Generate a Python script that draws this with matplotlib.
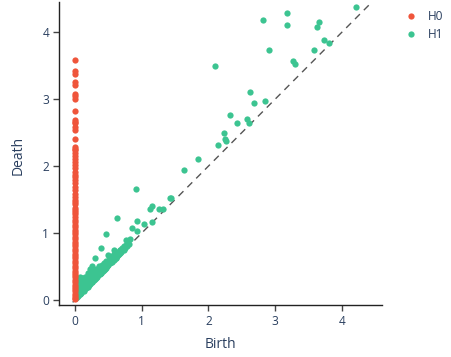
import matplotlib
matplotlib.use("Agg")
import matplotlib.pyplot as plt
from matplotlib.lines import Line2D

# ---- data ----
h0_death = [3.58, 3.42, 3.38, 3.25, 3.21, 3.08, 3.04, 3.00, 2.82, 2.69, 2.66, 2.64,
            2.59, 2.54, 2.41, 2.29, 2.26, 2.24, 2.19, 2.15, 2.11, 2.06, 2.01, 1.97,
            1.91, 1.87, 1.83, 1.79, 1.74, 1.69, 1.64, 1.59, 1.54, 1.50, 1.46, 1.43,
            1.38, 1.35, 1.31, 1.28, 1.24, 1.20, 1.17, 1.12, 1.09, 1.05, 1.01, 0.98,
            0.94, 0.91, 0.87, 0.83, 0.80, 0.76, 0.73, 0.69, 0.65, 0.62, 0.58, 0.55,
            0.51, 0.48, 0.44, 0.41, 0.37, 0.34, 0.30, 0.27, 0.23, 0.20, 0.16, 0.13,
            0.09, 0.06, 0.03, 0.01]
h0_birth = [0.0 for _ in h0_death]

# isolated H1 points
h1_birth = [4.21, 2.82, 3.18, 3.17, 3.65, 3.62, 2.90, 3.73, 3.81, 3.58, 2.10, 3.27,
            3.29, 2.62, 2.68, 2.84, 2.32, 2.42, 2.57, 2.60, 2.23, 2.24, 2.26, 2.15,
            1.84, 1.63, 0.91, 1.42, 1.44, 1.15, 1.13, 1.26, 1.32, 0.63, 0.93, 1.04,
            1.16, 0.86, 0.93, 0.47, 0.82, 0.76, 0.81, 0.39, 0.30, 0.59, 0.67, 0.50,
            0.25, 0.22, 0.07]
h1_death = [4.37, 4.18, 4.28, 4.10, 4.15, 4.07, 3.74, 3.88, 3.84, 3.73, 3.50, 3.57,
            3.53, 3.10, 2.94, 2.97, 2.76, 2.64, 2.70, 2.65, 2.50, 2.40, 2.37, 2.32,
            2.10, 1.94, 1.66, 1.53, 1.52, 1.41, 1.36, 1.36, 1.36, 1.23, 1.18, 1.13,
            1.17, 1.08, 1.03, 0.98, 0.91, 0.90, 0.84, 0.77, 0.63, 0.75, 0.75, 0.67,
            0.51, 0.46, 0.35]

# dense H1 cloud near the diagonal
cloud_birth = [0.01, 0.02, 0.03, 0.03, 0.04, 0.05, 0.05, 0.06, 0.07, 0.07, 0.08, 0.08,
               0.09, 0.10, 0.10, 0.11, 0.12, 0.12, 0.13, 0.14, 0.15, 0.15, 0.16, 0.17,
               0.18, 0.18, 0.19, 0.20, 0.20, 0.21, 0.22, 0.23, 0.24, 0.25, 0.26, 0.26,
               0.27, 0.28, 0.29, 0.30, 0.31, 0.32, 0.33, 0.34, 0.35, 0.36, 0.37, 0.38,
               0.39, 0.40, 0.41, 0.42, 0.43, 0.44, 0.45, 0.46, 0.47, 0.48, 0.49, 0.50,
               0.51, 0.52, 0.53, 0.54, 0.55, 0.56, 0.57, 0.58, 0.59, 0.60, 0.61, 0.62,
               0.63, 0.64, 0.65, 0.66, 0.68, 0.69, 0.70, 0.71, 0.72, 0.74, 0.75, 0.77,
               0.78,
               0.02, 0.03, 0.04, 0.05, 0.06, 0.06, 0.08, 0.09, 0.10, 0.11, 0.12, 0.13,
               0.14, 0.15, 0.16, 0.17, 0.18, 0.19, 0.21, 0.22, 0.23, 0.24, 0.25, 0.27,
               0.28, 0.29, 0.31, 0.32, 0.33, 0.34, 0.36, 0.37, 0.38, 0.40, 0.41, 0.43,
               0.44, 0.45, 0.47, 0.48, 0.50, 0.52, 0.53, 0.55, 0.57, 0.58, 0.60, 0.62,
               0.04, 0.07, 0.09, 0.11, 0.13, 0.16, 0.19, 0.22, 0.25, 0.28, 0.31, 0.35,
               0.39, 0.43, 0.46, 0.50, 0.54, 0.57, 0.61, 0.65, 0.67, 0.73]
cloud_death = [0.03, 0.08, 0.05, 0.15, 0.10, 0.22, 0.07, 0.30, 0.18, 0.12, 0.27, 0.09,
               0.20, 0.33, 0.14, 0.24, 0.17, 0.30, 0.13, 0.22, 0.34, 0.18, 0.27, 0.20,
               0.31, 0.24, 0.19, 0.40, 0.28, 0.23, 0.35, 0.26, 0.31, 0.27, 0.43, 0.36,
               0.30, 0.33, 0.40, 0.32, 0.37, 0.47, 0.35, 0.42, 0.38, 0.50, 0.40, 0.44,
               0.41, 0.52, 0.46, 0.44, 0.55, 0.48, 0.47, 0.52, 0.58, 0.50, 0.55, 0.53,
               0.60, 0.56, 0.63, 0.58, 0.57, 0.66, 0.61, 0.60, 0.68, 0.64, 0.63, 0.70,
               0.66, 0.72, 0.68, 0.69, 0.74, 0.71, 0.78, 0.74, 0.76, 0.80, 0.77, 0.82,
               0.80,
               0.04, 0.12, 0.26, 0.17, 0.09, 0.26, 0.13, 0.29, 0.24, 0.16, 0.21, 0.27,
               0.18, 0.28, 0.22, 0.34, 0.25, 0.29, 0.31, 0.27, 0.40, 0.29, 0.36, 0.33,
               0.31, 0.36, 0.42, 0.35, 0.40, 0.37, 0.44, 0.39, 0.42, 0.46, 0.43, 0.50,
               0.47, 0.49, 0.52, 0.51, 0.56, 0.55, 0.58, 0.59, 0.62, 0.61, 0.66, 0.65,
               0.06, 0.09, 0.11, 0.13, 0.15, 0.18, 0.21, 0.24, 0.27, 0.30, 0.33, 0.37,
               0.41, 0.45, 0.48, 0.52, 0.56, 0.59, 0.63, 0.67, 0.70, 0.75]

series_labels = ["H0", "H1"]
ticks = [0, 1, 2, 3, 4]
diag_range = [-0.3, 4.7]

# ---- style ----
plt.rcParams['font.family'] = ['Open Sans', 'DejaVu Sans']
txt_color = '#2a3f5f'
c_h0 = '#EF553B'
c_h1 = '#3CC491'

W, H = 451, 357
fig = plt.figure(figsize=(W / 100, H / 100), dpi=100)
ax = fig.add_axes([59 / W, 1 - 305 / H, 323 / W, 303 / H])

ax.plot(diag_range, diag_range, ls=(0, (5, 4)), color='#555555', lw=1, zorder=1)
ax.plot(h0_birth, h0_death, 'o', color=c_h0, ms=4.5, mew=0, zorder=3, label=series_labels[0])
ax.plot(h1_birth + cloud_birth, h1_death + cloud_death, 'o', color=c_h1, ms=4.5, mew=0,
        zorder=2, label=series_labels[1])

ax.set_xlim(-0.24, 4.6)
ax.set_ylim(-0.075, 4.45)
ax.set_xticks(ticks)
ax.set_yticks(ticks)
for s in ['top', 'right']:
    ax.spines[s].set_visible(False)
for s in ['left', 'bottom']:
    ax.spines[s].set_color('#222222')
    ax.spines[s].set_linewidth(1)
ax.tick_params(direction='out', length=4, width=1, color='#444444',
               labelcolor=txt_color, labelsize=8.6, pad=3)

fig.text(220 / W, 1 - 345 / H, 'Birth', ha='center', va='center', fontsize=10, color=txt_color)
fig.text(18 / W, 1 - 155 / H, 'Death', ha='center', va='center', rotation=90,
         fontsize=10, color=txt_color)

handles = [Line2D([], [], ls='', marker='o', color=c_h0, ms=4.5, mew=0),
           Line2D([], [], ls='', marker='o', color=c_h1, ms=4.5, mew=0)]
fig.legend(handles, series_labels, loc='upper left', bbox_to_anchor=(398 / W, 1 - 4 / H),
           frameon=False, fontsize=8.6, labelcolor=txt_color, handlelength=1.2,
           handletextpad=0.8, labelspacing=0.45, borderpad=0)

fig.savefig('out.png', dpi=100, facecolor='white')
